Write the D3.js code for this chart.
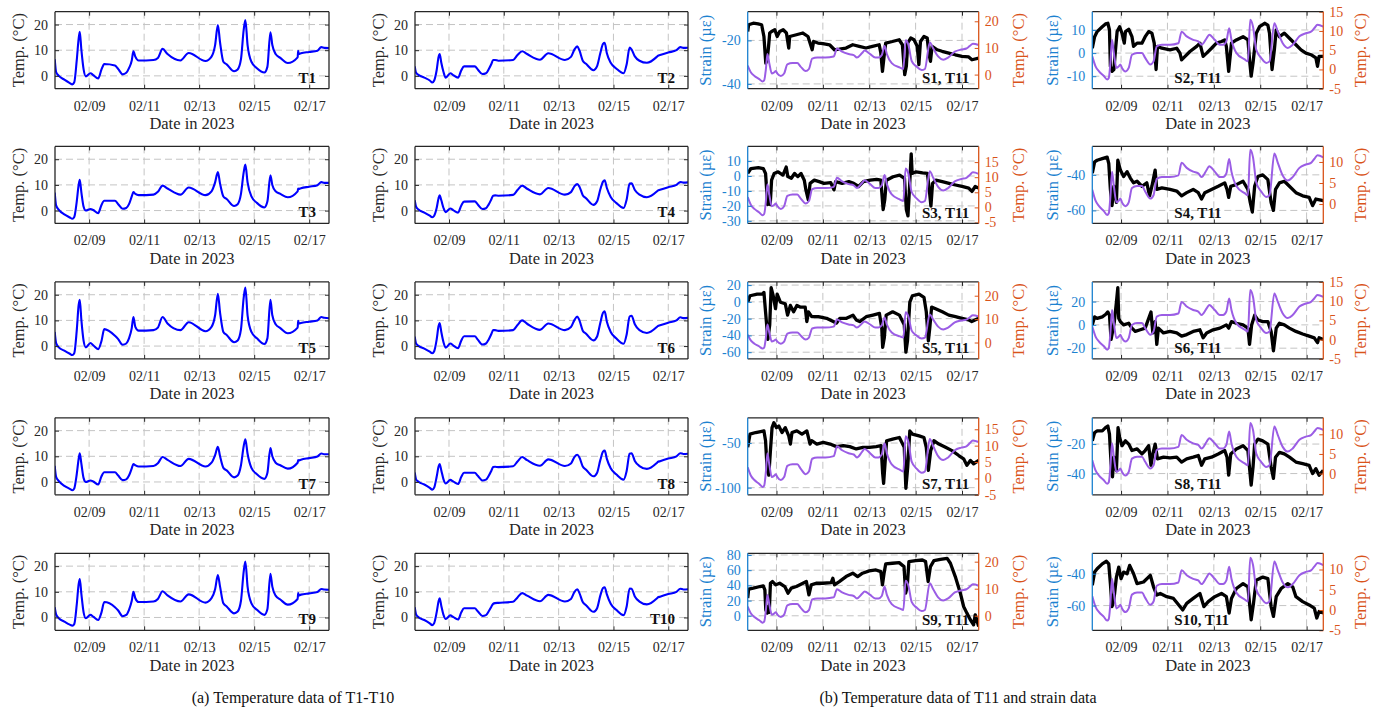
<!DOCTYPE html>
<html>
<head>
<meta charset="utf-8">
<title>Temperature and strain records, February 2023</title>
<script src="https://cdn.jsdelivr.net/npm/d3@7/dist/d3.min.js"></script>
<style>
  html, body { margin: 0; padding: 0; background: #fff; }
  svg { display: block; font-family: "Liberation Serif", "Times New Roman", Times, serif; }
  text { font-family: "Liberation Serif", "Times New Roman", Times, serif; }
</style>
</head>
<body>
<svg id="fig" width="1380" height="714" font-family="Liberation Serif, Times New Roman, serif"></svg>
<script>
// ---- time base: every record is indexed by days counted from 2023-02-07 00:00 ----
const dayZero = new Date(2023, 1, 7);
const toDate = d => new Date(dayZero.getTime() + d * 864e5);
const dayDomain = [0.76, 10.72];
const dateTicks = ["02/09", "02/11", "02/13", "02/15", "02/17"];

// ---- (a) sensors T1–T10, sampled at shared knot times (days) ----
const knotDays = [0.75,0.80,0.90,1.10,1.30,1.39,1.46,1.55,1.62,1.66,1.72,1.80,1.88,2.05,2.15,2.33,2.45,2.55,2.94,3.05,3.22,3.35,3.45,3.55,3.61,3.68,3.80,4.34,4.50,4.67,4.85,5.32,5.62,6.23,6.45,6.58,6.68,6.76,6.88,7.00,7.27,7.40,7.52,7.62,7.68,7.76,7.90,8.10,8.37,8.48,8.59,8.66,8.78,8.95,9.22,9.58,9.60,9.62,9.70,10.00,10.30,10.44,10.55,10.77];
const T1  = [6.5,1.5,0,-1.5,-2.8,-3.3,-2.5,6,14.5,17.2,10,2.5,-0.2,1.0,0.3,-1.0,2.5,4.6,4.0,2.8,0.6,1.2,3.0,6,9.6,7.5,6,6.2,7.0,10.5,8.5,6.0,8.9,5.8,7.5,12,19.8,13,5.5,4.5,1.8,2.5,6.5,18,21.7,12,5.5,3,1.3,3.5,17,12,8.5,7,5.0,7.2,9.8,8.5,8.8,9.3,9.8,11.2,10.9,10.8];
const T2  = [3.7,1.2,0.3,-0.7,-1.8,-2.6,-1.8,2.2,7.4,8.5,5.1,1.5,-0.7,1.0,0.3,-0.7,2.2,3.7,3.7,2.5,0.7,1.0,2.6,4.7,6.2,6.2,5.9,6.2,8.1,9.6,8.5,6.3,8.8,6.2,7.4,10.3,11.5,9.9,5.9,4.7,2.2,3.7,8.8,12.5,12.9,8.8,5.1,2.9,1.0,4.4,11,10.3,7.6,5.9,5.1,7.4,7.6,7.8,8.1,9.1,10,11.2,10.9,11];
const T3  = [7,2,0.3,-1.5,-2.7,-3.2,-2.5,3.5,10,12,7,1.5,0,0.6,0.2,-1.0,2.2,3.8,3.8,2.6,0.7,1.0,2.5,5.5,7.2,6.5,6,6.2,7.3,9.7,8.6,6.2,9,6,7.5,11,15,10.5,5.5,4.5,1.8,2.5,6.5,15,17.9,11,5.5,3,1.2,3.5,13.7,10,7.5,6.5,5.2,7.5,8.6,8.4,8.7,9.3,9.9,11.1,10.8,10.8];
const T4  = [4,1.5,0.3,-0.8,-2,-2.6,-2,1,4.8,5.9,4,1,-0.6,0.8,0.2,-0.8,2,3.5,3.6,2.4,0.6,0.9,2.4,4.5,5.8,5.9,5.8,6.1,8,9.7,8.5,6.3,8.8,6.2,7.2,9.5,10.3,9.3,6,4.8,2.2,3.5,8.2,11.3,11.8,8.8,5.3,3,1,4.2,10.5,10.6,8,6.2,5.2,7.4,7.6,7.8,8.1,9.1,10,11.1,10.9,11];
const T5  = [5.5,1.2,-0.5,-1.8,-3,-3.5,-2.8,6,16,18,10,2,-0.5,1.2,0.3,-1.2,2,6.6,4,2.8,0.5,1,3,7,11.3,7.5,6,6.2,7.2,11.3,8.8,6.2,9.3,5.8,7.5,12,20.4,13,5.5,4.3,1.5,2.2,6.5,19,22.8,12,5.5,3,0.8,3,18,12,8.5,7,5,7.2,9.8,8.8,9,9.5,10,11.3,11,10.8];
const T6  = [3.7,1,0,-1,-2.2,-2.8,-2,2.5,7.8,9,5.5,1.5,-0.6,1,0.3,-0.8,2.2,3.8,3.8,2.5,0.6,1,2.6,4.8,6.2,6.2,5.9,6.2,8.2,10,8.7,6.3,8.8,6.2,7.4,10.2,11.5,10,6,4.8,2.2,3.6,9,13,13.5,9.5,5.5,3,0.9,4.4,11.5,11.8,8.5,6.2,5.1,7.4,7.6,7.8,8.1,9.1,10,11.2,10.9,11];
const T7  = [6.3,2,0.3,-1.5,-2.7,-3.2,-2.5,3,9,11.2,7,1.5,0,0.6,0.2,-1.0,2.2,3.8,3.8,2.6,0.7,1,2.5,5.3,7,6.5,6,6.2,7.3,9.7,8.6,6.2,9,6,7.5,10.5,13.7,10,5.5,4.5,1.8,2.5,6.5,14,16.6,11,5.5,3,1.2,3.5,13.2,10,7.5,6.5,5.2,7.5,8.5,8.4,8.7,9.3,9.9,11.1,10.8,10.8];
const T8  = [3.7,1,0,-1,-2.3,-3,-2.2,2,6,7,4.5,1,-0.6,0.8,0.2,-0.8,2,3.6,3.6,2.4,0.6,0.9,2.4,4.5,5.8,5.9,5.8,6.1,8,9.7,8.5,6.3,8.8,6.2,7.2,9.8,10.6,9.5,6,4.8,2.2,3.5,8.5,11.8,12.2,9,5.3,3,0.9,4.2,11,11.2,8.2,6.2,5.1,7.4,7.6,7.8,8.1,9.1,10,11.2,10.9,11];
const T9  = [4,1.2,-0.3,-1.6,-2.8,-3.2,-2.6,5,13,15,9,2,-0.3,1,0.3,-1,2,6,4,2.8,0.5,1,3,6.5,10,7.5,6,6.2,7.2,10.2,8.6,6.2,9,5.8,7.5,11,16.5,12,5.5,4.3,1.6,2.3,6.5,18,21.8,12,5.5,3,1,3.2,17,12,8.5,7,5,7.2,9.5,8.6,8.9,9.4,9.9,11.1,10.9,10.8];
const T10 = [4,1.2,0,-1,-2.3,-3,-2.2,2,6.3,7.5,4.5,1,-0.6,0.8,0.2,-0.8,2,3.6,3.6,2.4,0.6,0.9,2.4,4.3,5.3,5.6,5.7,6.1,7.8,9.5,8.5,6.3,8.8,6.2,7.2,10,11,9.5,6,4.8,2.2,3.5,8.5,11.5,11.8,9,5.3,3,0.9,4.2,11.3,11.2,8.2,6.2,5.1,7.4,7.6,7.8,8.1,9.1,10,11.2,10.9,11];
const tempNames = ["T1","T2","T3","T4","T5","T6","T7","T8","T9","T10"];
const tempSeries = [T1,T2,T3,T4,T5,T6,T7,T8,T9,T10];
const tempDomainA = [-5, 25];
const tempTicksA = [0, 10, 20];

// ---- (b) sensor T11 and strain gauges S1–S10, [day, value] pairs ----
const T11 = [[0.76,3.4],[0.9,0.8],[1.05,-0.5],[1.26,-1.7],[1.4,-2.6],[1.47,-2.2],[1.54,1.7],[1.61,7.7],[1.69,4.3],[1.8,0.4],[1.9,0.8],[1.97,1.3],[2.04,0.4],[2.19,-0.5],[2.33,0.4],[2.47,3.8],[2.69,4.3],[2.9,4.3],[3.04,3.0],[3.26,1.3],[3.4,2.1],[3.54,6.0],[3.76,6.4],[4.11,6.4],[4.47,6.8],[4.61,9.8],[4.83,8.6],[5.11,7.7],[5.33,7.3],[5.47,6.4],[5.69,8.1],[5.8,9.0],[6.04,7.7],[6.26,6.4],[6.4,6.4],[6.54,7.3],[6.66,10.7],[6.76,7.7],[6.97,4.3],[7.33,2.6],[7.47,2.1],[7.57,12.9],[7.69,11.1],[7.83,5.1],[8.04,3.0],[8.26,1.7],[8.4,2.1],[8.61,12],[8.76,9.8],[8.97,6.8],[9.19,5.6],[9.4,6.4],[9.69,8.6],[9.97,9.4],[10.19,9.8],[10.33,10.7],[10.47,11.6],[10.72,11.1]];

const S1 = [[0.76,-15.9],[0.8,-12.8],[1.0,-12.1],[1.21,-12.4],[1.36,-12.8],[1.46,-18.2],[1.54,-30.4],[1.6,-28.9],[1.66,-22.7],[1.71,-16.6],[1.79,-15.9],[1.93,-15.1],[2.03,-18.2],[2.14,-15.9],[2.29,-15.1],[2.43,-16.6],[2.53,-23.5],[2.57,-18.2],[2.86,-17.4],[3.14,-16.6],[3.36,-18.2],[3.54,-24.3],[3.6,-20.5],[3.79,-21.2],[4.0,-21.5],[4.29,-22],[4.5,-24.3],[4.71,-24],[5.0,-23.5],[5.29,-22],[5.57,-22.7],[5.86,-23.5],[6.14,-22.7],[6.43,-22],[6.5,-25.8],[6.57,-34.2],[6.64,-27.3],[6.71,-21.2],[7.0,-20.5],[7.29,-19.7],[7.43,-22],[7.53,-35.7],[7.6,-31.9],[7.66,-21.2],[7.79,-18.9],[7.93,-19.7],[8.07,-22.7],[8.14,-31.1],[8.21,-20.5],[8.36,-18.2],[8.5,-18.9],[8.57,-25.8],[8.64,-29.6],[8.71,-22.7],[8.93,-24.3],[9.14,-25],[9.43,-25.8],[9.71,-26.6],[10.0,-27.3],[10.29,-27.6],[10.43,-28.9],[10.72,-28.1]];
const S2 = [[0.76,2.1],[0.86,7.1],[0.97,9.3],[1.19,11.4],[1.33,12.6],[1.43,12.9],[1.5,10],[1.54,-5.7],[1.61,-7.9],[1.69,-7.1],[1.76,1.4],[1.83,9.3],[1.94,11.4],[2.04,8.6],[2.14,4.3],[2.19,9.3],[2.33,10.3],[2.47,7.1],[2.54,2.9],[2.69,4.3],[2.9,4.3],[3.04,7.1],[3.19,9.3],[3.33,8.6],[3.43,4.3],[3.51,-7.1],[3.57,2.9],[3.76,2.1],[4.11,1.4],[4.4,2.1],[4.54,0],[4.61,-2.9],[4.76,-1.4],[4.97,0.7],[5.26,2.9],[5.4,4.3],[5.54,-1.4],[5.69,0],[5.9,2.1],[6.11,4.3],[6.33,5],[6.47,5.7],[6.54,2.9],[6.64,-7.9],[6.76,4.3],[6.97,5.7],[7.26,7.1],[7.47,5.7],[7.54,-2.9],[7.61,-10],[7.69,-4.3],[7.83,8.6],[7.97,11.4],[8.19,12.9],[8.33,12.1],[8.4,8.6],[8.51,-7.1],[8.61,1.4],[8.69,10],[8.83,7.1],[9.04,8.6],[9.26,6.4],[9.54,3.6],[9.76,1.4],[9.97,0],[10.19,-0.7],[10.4,-2.1],[10.47,-5.7],[10.54,-1.4],[10.72,-1.4]];
const S3 = [[0.76,1.7],[0.9,5],[1.22,5.6],[1.43,5],[1.53,1.7],[1.62,-19.1],[1.68,-13.6],[1.73,-19.1],[1.79,-2.8],[1.9,1.7],[2.07,2.8],[2.28,0.6],[2.42,6],[2.49,-0.4],[2.64,-1.5],[2.78,1.7],[2.92,-0.4],[3.06,1.7],[3.2,-2.8],[3.27,-9.3],[3.37,-15.8],[3.45,-4.9],[3.63,-2.8],[3.84,-3.8],[4.05,-4.9],[4.34,-4.4],[4.48,-9.3],[4.55,-3.8],[4.83,-4.9],[5.12,-3.8],[5.33,-4.9],[5.54,-7],[5.75,-3.8],[6.04,-2.8],[6.32,-2.3],[6.5,-2.8],[6.6,-22.4],[6.67,-15.8],[6.74,-2.8],[7.03,-0.5],[7.31,0.6],[7.52,-1.6],[7.6,-22.4],[7.67,-26.7],[7.74,-7],[7.81,14.8],[7.85,1.7],[8.02,2.8],[8.3,2.1],[8.51,1.7],[8.59,-9.3],[8.66,-20.2],[8.73,-4.9],[8.87,-2.8],[9.15,-3.8],[9.44,-4.9],[9.72,-6],[10.0,-7],[10.29,-8.1],[10.43,-10.3],[10.57,-7],[10.72,-8.1]];
const S4 = [[0.76,-39],[0.86,-32.7],[0.97,-31.8],[1.19,-30.9],[1.4,-30],[1.47,-33.6],[1.54,-48.2],[1.61,-57.3],[1.69,-46.4],[1.8,-55.5],[1.86,-31.8],[1.97,-37.3],[2.11,-40.9],[2.26,-38.2],[2.4,-41.8],[2.54,-44.5],[2.69,-43.6],[2.9,-46.4],[3.11,-44.5],[3.23,-51.8],[3.33,-46.4],[3.47,-37.3],[3.54,-48.2],[3.76,-47.3],[4.11,-48.2],[4.4,-49.1],[4.61,-51.8],[4.83,-50],[5.11,-48.2],[5.33,-50],[5.47,-53.6],[5.61,-50],[5.9,-48.2],[6.19,-46.4],[6.47,-44.5],[6.57,-48.2],[6.64,-52.7],[6.73,-46.4],[6.97,-45.5],[7.26,-43.6],[7.47,-48.2],[7.57,-55.5],[7.66,-60.9],[7.76,-46.4],[7.9,-40.9],[8.11,-40],[8.33,-42.7],[8.47,-55.5],[8.57,-60],[8.66,-48.2],[8.83,-44.5],[9.04,-43.6],[9.26,-46.4],[9.54,-50],[9.83,-51.8],[10.11,-52.7],[10.26,-57.3],[10.4,-53.6],[10.72,-54.5]];
const S5 = [[0.76,-0.4],[0.86,7.3],[1.17,9.2],[1.39,9.2],[1.46,11.2],[1.53,-11.9],[1.63,-44.6],[1.71,-27.3],[1.77,16.9],[1.86,7.3],[1.96,-8.1],[2.03,9.2],[2.17,-0.4],[2.38,-2.3],[2.48,-15.8],[2.6,-4.2],[2.74,-11.9],[2.88,-4.2],[3.02,-6.2],[3.24,-6.2],[3.31,-23.5],[3.38,-11.9],[3.52,-17.7],[3.81,-17.7],[4.16,-19.6],[4.45,-23.5],[4.59,-25.4],[4.73,-19.6],[5.02,-19.6],[5.3,-15.8],[5.44,-21.5],[5.59,-23.5],[5.87,-17.7],[6.16,-15.8],[6.44,-13.8],[6.54,-31.2],[6.58,-54.2],[6.65,-42.7],[6.73,-15.8],[7.01,-11.9],[7.3,-15.8],[7.51,-27.3],[7.58,-60],[7.65,-46.5],[7.75,-0.4],[7.86,7.3],[8.15,9.2],[8.36,5.4],[8.46,-11.9],[8.55,-46.5],[8.61,-31.2],[8.69,-6.2],[8.86,-8.1],[9.15,-11.9],[9.43,-15.8],[9.72,-17.7],[10.0,-19.6],[10.28,-21.5],[10.42,-23.5],[10.72,-19.6]];
const S6 = [[0.76,0],[0.86,6.9],[0.97,5.6],[1.19,6.9],[1.33,8.9],[1.43,11.1],[1.5,8.3],[1.57,-12.5],[1.66,-2.8],[1.71,2.8],[1.8,19.4],[1.86,31.9],[1.9,5.6],[1.97,2.8],[2.11,0],[2.33,1.4],[2.47,-2.8],[2.61,-5.6],[2.83,-4.2],[3.04,-2.8],[3.29,11.1],[3.37,-6.9],[3.47,2.8],[3.54,-16.7],[3.61,-2.8],[3.83,-6.9],[4.11,-5.6],[4.4,-6.9],[4.61,-9.7],[4.83,-8.3],[5.11,-5.6],[5.4,-4.2],[5.54,-11.1],[5.69,-6.9],[5.97,-4.2],[6.26,-2.8],[6.54,0],[6.64,-2.8],[6.76,2.8],[6.97,1.4],[7.26,0],[7.47,-2.8],[7.54,-16.7],[7.63,0],[7.76,8.3],[7.9,4.2],[8.11,2.8],[8.33,2.8],[8.47,-5.6],[8.57,-22.2],[8.69,-2.8],[8.83,1.4],[9.04,0],[9.26,-2.8],[9.54,-5.6],[9.83,-7.8],[10.11,-9.7],[10.33,-11.1],[10.47,-15.3],[10.54,-11.1],[10.72,-12.5]];
const S7 = [[0.76,-54.8],[0.86,-40],[1.1,-38.2],[1.32,-37.1],[1.46,-36.4],[1.53,-47.4],[1.6,-80.5],[1.67,-86],[1.74,-58.5],[1.81,-32.7],[1.89,-27.2],[2.0,-32.7],[2.1,-30.9],[2.24,-38.2],[2.38,-32.7],[2.53,-41.9],[2.6,-51.1],[2.67,-38.2],[2.88,-36.4],[3.1,-39.9],[3.31,-36.4],[3.45,-51.1],[3.52,-47.4],[3.74,-51.1],[4.02,-49.3],[4.31,-51.1],[4.59,-54],[4.88,-52.9],[5.16,-54],[5.44,-56.6],[5.73,-54.8],[6.01,-54.8],[6.3,-54],[6.51,-52.9],[6.58,-84.2],[6.62,-95.2],[6.69,-69.5],[6.75,-47.4],[7.01,-45.6],[7.3,-43.8],[7.51,-54.8],[7.58,-100.7],[7.66,-76.8],[7.75,-36.4],[7.86,-40],[8.15,-41.9],[8.36,-43.8],[8.46,-54.8],[8.55,-80.5],[8.65,-58.5],[8.79,-47.4],[9.0,-51.1],[9.29,-54.8],[9.57,-58.5],[9.86,-64],[10.07,-67.6],[10.21,-75],[10.36,-69.5],[10.5,-73.2],[10.72,-69.5]];
const S8 = [[0.76,-17.8],[0.86,-12.2],[0.97,-11.1],[1.19,-11.1],[1.33,-8.9],[1.43,-7.8],[1.5,-13.3],[1.57,-33.3],[1.63,-42.2],[1.69,-28.9],[1.8,-37.8],[1.87,-8.9],[1.94,-15.6],[2.04,-21.1],[2.19,-17.8],[2.33,-20],[2.47,-24.4],[2.69,-23.3],[2.9,-26.7],[3.04,-24.4],[3.19,-21.1],[3.29,-34.4],[3.37,-26.7],[3.47,-20],[3.57,-30],[3.83,-28.9],[4.11,-29.3],[4.4,-28.9],[4.61,-32.2],[4.83,-30],[5.11,-28.9],[5.33,-27.8],[5.47,-34.4],[5.61,-30],[5.9,-28.9],[6.19,-26.7],[6.47,-24.4],[6.57,-28.9],[6.64,-41.1],[6.73,-26.7],[6.97,-23.3],[7.26,-21.1],[7.47,-24.4],[7.61,-47.8],[7.69,-35.6],[7.76,-20],[7.9,-16.7],[8.11,-17.8],[8.33,-20],[8.47,-35.6],[8.57,-43.3],[8.66,-28.9],[8.83,-25.6],[9.04,-26.7],[9.26,-28.9],[9.54,-32.2],[9.83,-33.3],[10.11,-34.4],[10.26,-40],[10.4,-36.7],[10.54,-41.1],[10.72,-37.8]];
const S9 = [[0.76,23.2],[0.8,35],[1.0,36.3],[1.29,38.5],[1.43,39.3],[1.5,34.1],[1.54,7.9],[1.6,3.5],[1.66,12.2],[1.69,4.4],[1.74,42.8],[1.83,45],[1.97,40.7],[2.14,42.8],[2.36,38.5],[2.5,29.7],[2.64,36.3],[2.86,38.5],[3.14,42.8],[3.29,45],[3.4,27.5],[3.5,40.7],[3.71,42.8],[4.0,42.8],[4.36,43.7],[4.43,49.4],[4.5,40.7],[4.71,45],[5.0,51.6],[5.29,56],[5.5,51.6],[5.71,56],[6.0,59],[6.29,60.3],[6.5,58.1],[6.57,40.7],[6.64,56],[6.71,68.2],[7.0,69.1],[7.29,69.9],[7.5,64.7],[7.57,29.7],[7.64,38.5],[7.71,71.3],[8.0,72.6],[8.29,73.4],[8.43,71.3],[8.54,45],[8.64,64.7],[8.79,72.6],[9.07,74.3],[9.36,75.6],[9.5,69.1],[9.71,51.6],[9.93,29.7],[10.07,12.2],[10.21,3.5],[10.36,-5.2],[10.5,-11.8],[10.57,1.3],[10.72,-14]];
const S10 = [[0.76,-47.2],[0.86,-39],[0.97,-36.9],[1.19,-33.8],[1.37,-32.2],[1.47,-33.8],[1.54,-46.2],[1.61,-60.6],[1.69,-56.5],[1.8,-42.1],[1.9,-35.9],[2.0,-43.1],[2.11,-39],[2.26,-40],[2.37,-34.8],[2.54,-40],[2.69,-46.2],[2.97,-45.2],[3.26,-41],[3.4,-48.2],[3.54,-53.4],[3.69,-52.4],[3.97,-54.4],[4.26,-55.5],[4.54,-60.6],[4.66,-62.7],[4.83,-58.6],[5.11,-55.5],[5.4,-52.4],[5.57,-60.6],[5.76,-57.5],[6.04,-54.4],[6.33,-52.4],[6.54,-54.4],[6.66,-64.7],[6.76,-55.5],[6.97,-49.3],[7.26,-46.2],[7.47,-48.2],[7.61,-68.9],[7.71,-58.6],[7.83,-44.1],[8.11,-42.1],[8.33,-43.1],[8.47,-60.6],[8.57,-66.8],[8.69,-54.4],[8.9,-49.3],[9.19,-46.2],[9.4,-48.2],[9.54,-54.4],[9.83,-57.5],[10.11,-59.6],[10.33,-61.6],[10.44,-67.8],[10.54,-63.7],[10.72,-64.7]];
const strainNames = ["S1","S2","S3","S4","S5","S6","S7","S8","S9","S10"];
const strainSeries = [S1,S2,S3,S4,S5,S6,S7,S8,S9,S10];
const strainDomains = [[-42.2,-6.8],[-15.4,17.9],[-31.7,19.8],[-67.3,-24],[-68,23.8],[-29.2,36.9],[-108,-21.7],[-54.4,-2.2],[-19.1,82.2],[-75.5,-27.2]];
const strainTicks = [[-40,-20],[-10,0,10],[-30,-20,-10,0,10],[-60,-40],[-60,-40,-20,0,20],[-20,0,20],[-100,-50],[-40,-20],[0,20,40,60,80],[-60,-40]];
const t11Domains = [[-5.3,23.6],[-5,15],[-5.3,20.2],[-4.6,13.7],[-7,25.9],[-5,15],[-5,18.5],[-5.4,14.2],[-5.4,23.1],[-5,14]];
const t11Ticks = [[0,10,20],[-5,0,5,10,15],[-5,0,5,10,15],[0,5,10],[0,10,20],[-5,0,5,10,15],[-5,0,5,10,15],[0,5,10],[0,10,20],[-5,0,5,10]];

// ---- layout and styling ----
const rowTop = [11.7, 146.4, 281.9, 417.8, 553.3];
const panelH = 77;
const colA = [{ x: 55, w: 274 }, { x: 415, w: 273 }];
const colB = [{ x: 747.7, w: 231, yl: -42, yr: 39.5 }, { x: 1092.3, w: 231, yl: -40.5, yr: 37 }];
const serif = "Liberation Serif, Times New Roman, serif";
const ink = "#262626";
const gridColor = "#c4c4c4";
const lineBlue = "#0000ff";
const strainInk = "#000000";
const t11Purple = "#9b5de5";
const leftBlue = "#1c82d0";
const rightOrange = "#d95319";
const tickFont = 14, labelFont = 16.5, tagFont = 15;

const svg = d3.select("#fig");
const parseTick = d3.timeParse("%Y/%m/%d");
const tickDates = dateTicks.map(s => parseTick("2023/" + s));
const fmtTick = d3.timeFormat("%m/%d");
const plainNum = d => String(d);
let clipCount = 0;

function styleAxis(sel, color) {
  sel.attr("font-family", serif).attr("font-size", null);
  sel.select(".domain").remove();
  sel.selectAll(".tick line").attr("stroke", color).attr("stroke-width", 1);
  sel.selectAll(".tick text").attr("fill", color).attr("font-size", tickFont).attr("font-family", serif);
}

// One axes box: dashed grid, clipped plot layer, inward ticks, frame, date axis.
function panel(px, py, w, gridTicks, yGrid, leftColor, rightColor) {
  const h = panelH;
  const g = svg.append("g").attr("transform", `translate(${px},${py})`);
  const xs = d3.scaleTime().domain(dayDomain.map(toDate)).range([0, w]);

  const grid = g.append("g").attr("stroke", gridColor).attr("stroke-width", 1).attr("stroke-dasharray", "7,4");
  grid.selectAll("line.gx").data(tickDates).join("line").attr("class", "gx")
    .attr("x1", d => xs(d)).attr("x2", d => xs(d)).attr("y1", 0).attr("y2", h);
  grid.selectAll("line.gy").data(gridTicks).join("line").attr("class", "gy")
    .attr("x1", 0).attr("x2", w).attr("y1", d => yGrid(d)).attr("y2", d => yGrid(d));

  const id = "plotclip" + (clipCount++);
  g.append("clipPath").attr("id", id).append("rect").attr("width", w).attr("height", h);
  const plot = g.append("g").attr("clip-path", `url(#${id})`);

  const axes = g.append("g");
  axes.append("g").attr("transform", `translate(0,${h})`)
    .call(d3.axisBottom(xs).tickValues(tickDates).tickFormat(fmtTick)
      .tickSizeInner(-4).tickSizeOuter(0).tickPadding(12))
    .call(s => styleAxis(s, ink));
  axes.append("g")
    .call(d3.axisTop(xs).tickValues(tickDates).tickFormat("")
      .tickSizeInner(-4).tickSizeOuter(0))
    .call(s => styleAxis(s, ink));

  g.append("text").attr("x", w / 2).attr("y", h + 40.5).attr("text-anchor", "middle")
    .attr("font-family", serif).attr("font-size", labelFont).attr("fill", ink).text("Date in 2023");

  const frame = g.append("g").attr("stroke-width", 1.3).attr("fill", "none");
  frame.append("line").attr("x1", 0).attr("x2", w).attr("y1", 0).attr("y2", 0).attr("stroke", ink);
  frame.append("line").attr("x1", 0).attr("x2", w).attr("y1", h).attr("y2", h).attr("stroke", ink);
  frame.append("line").attr("x1", 0).attr("x2", 0).attr("y1", 0).attr("y2", h).attr("stroke", leftColor);
  frame.append("line").attr("x1", w).attr("x2", w).attr("y1", 0).attr("y2", h).attr("stroke", rightColor);

  return { g, plot, axes, xs, w, h };
}

function yLabel(g, cx, cy, txt, color) {
  g.append("text").attr("transform", `translate(${cx},${cy}) rotate(-90)`)
    .attr("dy", "0.35em").attr("text-anchor", "middle").attr("font-family", serif)
    .attr("font-size", labelFont).attr("fill", color).text(txt);
}

// ---- (a) temperature panels ----
tempSeries.forEach((vals, i) => {
  const col = colA[i % 2];
  const top = rowTop[Math.floor(i / 2)];
  const y = d3.scaleLinear().domain(tempDomainA).range([panelH, 0]);
  const p = panel(col.x, top, col.w, tempTicksA, y, ink, ink);

  p.axes.append("g")
    .call(d3.axisLeft(y).tickValues(tempTicksA).tickFormat(plainNum)
      .tickSizeInner(-4).tickSizeOuter(0).tickPadding(7))
    .call(s => styleAxis(s, ink));
  p.axes.append("g").attr("transform", `translate(${p.w},0)`)
    .call(d3.axisRight(y).tickValues(tempTicksA).tickFormat("")
      .tickSizeInner(-4).tickSizeOuter(0))
    .call(s => styleAxis(s, ink));

  const pts = knotDays.map((d, k) => [toDate(d), vals[k]]).filter(d => d[1] !== undefined);
  p.plot.append("path").datum(pts)
    .attr("d", d3.line().curve(d3.curveMonotoneX).x(d => p.xs(d[0])).y(d => y(d[1])))
    .attr("fill", "none").attr("stroke", lineBlue).attr("stroke-width", 2.1)
    .attr("stroke-linejoin", "round");

  yLabel(p.g, -37, p.h / 2, "Temp. (°C)", ink);
  p.g.append("text").attr("x", p.w - 13).attr("y", p.h - 6).attr("text-anchor", "end")
    .attr("font-family", serif).attr("font-size", tagFont).attr("font-weight", "bold")
    .attr("fill", "#111").text(tempNames[i]);
});

// ---- (b) strain panels with T11 on the right-hand axis ----
strainSeries.forEach((vals, i) => {
  const col = colB[i % 2];
  const top = rowTop[Math.floor(i / 2)];
  const yS = d3.scaleLinear().domain(strainDomains[i]).range([panelH, 0]);
  const yT = d3.scaleLinear().domain(t11Domains[i]).range([panelH, 0]);
  const p = panel(col.x, top, col.w, strainTicks[i], yS, leftBlue, rightOrange);

  p.axes.append("g")
    .call(d3.axisLeft(yS).tickValues(strainTicks[i]).tickFormat(plainNum)
      .tickSizeInner(-4).tickSizeOuter(0).tickPadding(7))
    .call(s => styleAxis(s, leftBlue));
  p.axes.append("g").attr("transform", `translate(${p.w},0)`)
    .call(d3.axisRight(yT).tickValues(t11Ticks[i]).tickFormat(plainNum)
      .tickSizeInner(-4).tickSizeOuter(0).tickPadding(6))
    .call(s => styleAxis(s, rightOrange));

  p.plot.append("path").datum(vals)
    .attr("d", d3.line().x(d => p.xs(toDate(d[0]))).y(d => yS(d[1])))
    .attr("fill", "none").attr("stroke", strainInk).attr("stroke-width", 3.3)
    .attr("stroke-linejoin", "round");
  p.plot.append("path").datum(T11)
    .attr("d", d3.line().curve(d3.curveMonotoneX).x(d => p.xs(toDate(d[0]))).y(d => yT(d[1])))
    .attr("fill", "none").attr("stroke", t11Purple).attr("stroke-width", 2)
    .attr("stroke-linejoin", "round");

  yLabel(p.g, col.yl, p.h / 2, "Strain (µε)", leftBlue);
  yLabel(p.g, p.w + col.yr, p.h / 2, "Temp. (°C)", rightOrange);

  const tag = p.g.append("text").attr("y", p.h - 5.5).attr("font-family", serif)
    .attr("font-size", tagFont).attr("font-weight", "bold").attr("fill", "#111")
    .text(strainNames[i] + ", T11");
  if (i % 2 === 0) tag.attr("x", p.w - 9.5).attr("text-anchor", "end");
  else tag.attr("x", 82).attr("text-anchor", "start");
});

// ---- sub-figure captions ----
svg.append("text").attr("x", 293).attr("y", 703).attr("text-anchor", "middle").attr("font-family", serif)
  .attr("font-size", 16).attr("fill", "#111").text("(a) Temperature data of T1-T10");
svg.append("text").attr("x", 958).attr("y", 703).attr("text-anchor", "middle").attr("font-family", serif)
  .attr("font-size", 16).attr("fill", "#111").text("(b) Temperature data of T11 and strain data");
</script>
</body>
</html>
